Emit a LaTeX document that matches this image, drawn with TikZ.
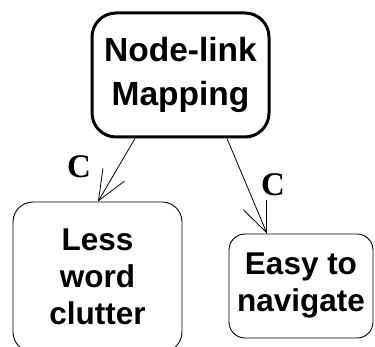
\documentclass[tikz,border=0pt]{standalone}
\usepackage{fontspec}
\setmainfont{Liberation Sans}
\newfontfamily\serifb{Liberation Serif}
\usetikzlibrary{arrows.meta}
\tikzset{
  box/.style={draw, line width=0.9pt, rounded corners=20pt, align=center, inner sep=0pt,
    font=\fontsize{31.5}{37}\selectfont\bfseries},
  mainbox/.style={box, line width=3pt, rounded corners=24pt, font=\fontsize{33.5}{44}\selectfont\bfseries},
  arr/.style={line width=0.8pt, -{Straight Barb[length=30pt,width=25pt,line width=0.8pt]}},
  lbl/.style={font=\serifb\fontsize{33}{33}\selectfont\bfseries, inner sep=0pt}
}
\begin{document}
\begin{tikzpicture}[x=1pt,y=-1pt]
\useasboundingbox (0,0) rectangle (375,347);
\begin{scope}
\clip (0,0) rectangle (375,347);
\node[mainbox, minimum width=177pt, minimum height=124pt] (top) at (180.5,75) {Node-link\\Mapping};
\node[box, minimum width=169pt, minimum height=150pt] (lt) at (97.5,277) {Less\\word\\clutter};
\node[box, rounded corners=16pt, minimum width=144pt, minimum height=104pt] (rt) at (301,286) {Easy to\\navigate};
\draw[arr] ([xshift=-45.5pt]top.south) -- ([xshift=0.5pt]lt.north);
\draw[arr] ([xshift=46.5pt]top.south) -- ([xshift=-34pt]rt.north);
\node[lbl] (c1) at (79,167) {C};
\node[lbl] (c2) at (273,185) {C};
\end{scope}
\end{tikzpicture}
\end{document}
